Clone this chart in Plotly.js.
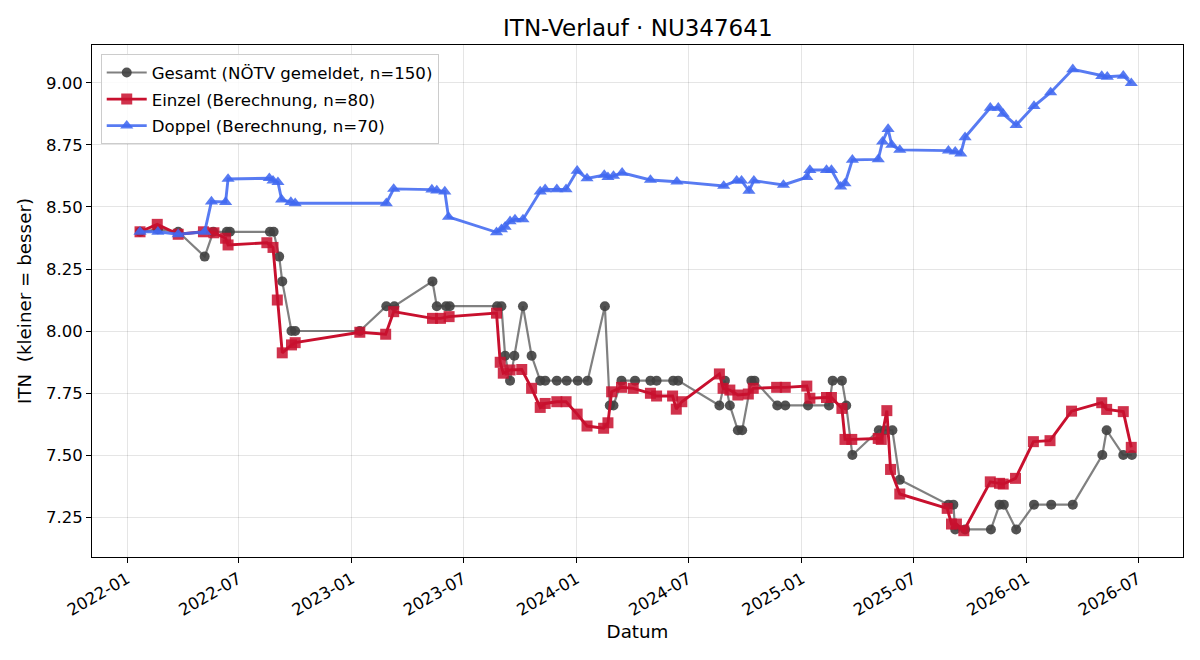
<!DOCTYPE html>
<html>
<head>
<meta charset="utf-8">
<script src="https://cdn.plot.ly/plotly-3.0.1.min.js"></script>
<style>
  html, body { margin: 0; padding: 0; background: #fff; }
  #chart { width: 1200px; height: 660px; }
</style>
</head>
<body>
<div id="chart"></div>
<script>
// ITN history for player NU347641
const gesamtDates = [
  "2022-01-22","2022-02-20","2022-03-25","2022-05-07","2022-05-21","2022-06-12","2022-06-17",
  "2022-08-21","2022-08-27","2022-09-05","2022-09-10","2022-09-25","2022-10-01","2023-01-14",
  "2023-02-26","2023-03-11","2023-05-12","2023-05-19","2023-06-03","2023-06-09","2023-08-25",
  "2023-09-01","2023-09-07","2023-09-15","2023-09-22","2023-10-06","2023-10-20","2023-11-03",
  "2023-11-11","2023-11-30","2023-12-16","2024-01-03","2024-01-19","2024-02-16","2024-02-24",
  "2024-03-01","2024-03-14","2024-04-05","2024-04-30","2024-05-10","2024-06-06","2024-06-14",
  "2024-08-20","2024-08-29","2024-09-06","2024-09-19","2024-09-26","2024-10-11","2024-10-16",
  "2024-11-22","2024-12-05","2025-01-11","2025-02-14","2025-02-20","2025-03-07","2025-03-14",
  "2025-03-24","2025-05-06","2025-05-16","2025-05-28","2025-06-09","2025-08-27","2025-09-04",
  "2025-09-07","2025-09-23","2025-11-04","2025-11-18","2025-11-25","2025-12-15","2026-01-13",
  "2026-02-10","2026-03-17","2026-05-04","2026-05-11","2026-06-07","2026-06-21"
];
const gesamtITN = [
  8.40, 8.41, 8.40, 8.30, 8.40, 8.40, 8.40,
  8.40, 8.40, 8.30, 8.20, 8.00, 8.00, 8.00,
  8.10, 8.10, 8.20, 8.10, 8.10, 8.10, 8.10,
  8.10, 7.90, 7.80, 7.90, 8.10, 7.90, 7.80,
  7.80, 7.80, 7.80, 7.80, 7.80, 8.10, 7.70,
  7.70, 7.80, 7.80, 7.80, 7.80, 7.80, 7.80,
  7.70, 7.80, 7.70, 7.60, 7.60, 7.80, 7.80,
  7.70, 7.70, 7.70, 7.70, 7.80, 7.80, 7.70,
  7.50, 7.60, 7.60, 7.60, 7.40, 7.30, 7.30,
  7.20, 7.20, 7.20, 7.30, 7.30, 7.20, 7.30,
  7.30, 7.30, 7.50, 7.60, 7.50, 7.50
];

const einzelDates = [
  "2022-01-22","2022-02-19","2022-03-25","2022-05-05","2022-05-22","2022-06-10","2022-06-14",
  "2022-08-16","2022-08-26","2022-09-02","2022-09-10","2022-09-25","2022-10-01","2023-01-14",
  "2023-02-25","2023-03-10","2023-05-12","2023-05-25","2023-06-08","2023-08-24","2023-08-30",
  "2023-09-04","2023-09-15","2023-10-04","2023-10-20","2023-11-03","2023-11-11","2023-11-30",
  "2023-12-15","2024-01-02","2024-01-18","2024-02-14","2024-02-21","2024-02-27","2024-03-14",
  "2024-04-02","2024-04-30","2024-05-10","2024-06-05","2024-06-11","2024-06-20","2024-08-20",
  "2024-08-26","2024-09-06","2024-09-19","2024-10-06","2024-10-14","2024-11-21","2024-12-05",
  "2025-01-09","2025-01-14","2025-02-10","2025-02-18","2025-03-07","2025-03-12","2025-03-23",
  "2025-05-05","2025-05-10","2025-05-19","2025-05-25","2025-06-09","2025-08-25","2025-09-01",
  "2025-09-09","2025-09-21","2025-11-03","2025-11-18","2025-11-24","2025-12-14","2026-01-12",
  "2026-02-08","2026-03-15","2026-05-03","2026-05-11","2026-06-07","2026-06-20"
];
const einzelITN = [
  8.400, 8.430, 8.390, 8.400, 8.396, 8.374, 8.347,
  8.356, 8.337, 8.125, 7.912, 7.944, 7.953, 7.995,
  7.987, 8.078, 8.051, 8.051, 8.058, 8.072, 7.874,
  7.830, 7.843, 7.845, 7.769, 7.692, 7.708, 7.715,
  7.715, 7.665, 7.617, 7.608, 7.630, 7.755, 7.773,
  7.769, 7.749, 7.738, 7.738, 7.685, 7.715, 7.827,
  7.769, 7.762, 7.742, 7.746, 7.769, 7.773, 7.773,
  7.778, 7.729, 7.732, 7.732, 7.688, 7.563, 7.563,
  7.567, 7.563, 7.679, 7.442, 7.343, 7.285, 7.222,
  7.222, 7.195, 7.392, 7.386, 7.383, 7.406, 7.554,
  7.558, 7.677, 7.711, 7.684, 7.675, 7.531
];

const doppelDates = [
  "2022-01-22","2022-02-20","2022-03-25","2022-05-07","2022-05-18","2022-06-10","2022-06-14",
  "2022-08-20","2022-08-26","2022-09-03","2022-09-09","2022-09-24","2022-10-01","2023-02-26",
  "2023-03-10","2023-05-11","2023-05-19","2023-06-01","2023-06-07","2023-08-24","2023-09-01",
  "2023-09-07","2023-09-15","2023-09-23","2023-10-06","2023-11-03","2023-11-11","2023-11-30",
  "2023-12-15","2024-01-02","2024-01-18","2024-02-15","2024-02-21","2024-03-01","2024-03-15",
  "2024-04-30","2024-06-12","2024-08-27","2024-09-17","2024-09-25","2024-10-07","2024-10-15",
  "2024-12-02","2025-01-09","2025-01-14","2025-02-10","2025-02-18","2025-03-05","2025-03-12",
  "2025-03-24","2025-05-05","2025-05-12","2025-05-21","2025-05-27","2025-06-09","2025-08-27",
  "2025-09-07","2025-09-16","2025-09-23","2025-11-03","2025-11-16","2025-11-24","2025-12-15",
  "2026-01-13","2026-02-09","2026-03-17","2026-05-03","2026-05-12","2026-06-07","2026-06-20"
];
const doppelITN = [
  8.400, 8.400, 8.390, 8.400, 8.522, 8.520, 8.613,
  8.616, 8.606, 8.600, 8.530, 8.520, 8.515, 8.515,
  8.573, 8.570, 8.566, 8.562, 8.460, 8.398, 8.410,
  8.420, 8.442, 8.450, 8.450, 8.562, 8.571, 8.571,
  8.571, 8.646, 8.615, 8.629, 8.620, 8.625, 8.638,
  8.609, 8.602, 8.585, 8.606, 8.606, 8.565, 8.606,
  8.589, 8.620, 8.649, 8.649, 8.649, 8.582, 8.595,
  8.690, 8.692, 8.763, 8.814, 8.750, 8.730, 8.727,
  8.723, 8.715, 8.781, 8.900, 8.900, 8.875, 8.830,
  8.907, 8.962, 9.055, 9.028, 9.025, 9.029, 8.999
];

const seriesNames = [
  "Gesamt (NÖTV gemeldet, n=150)",
  "Einzel (Berechnung, n=80)",
  "Doppel (Berechnung, n=70)"
];

const FONT = "DejaVu Sans, Liberation Sans, sans-serif";

const traces = [
  {
    x: gesamtDates, y: gesamtITN, name: seriesNames[0], legendgroup: "g",
    type: "scatter", mode: "lines+markers",
    line: { color: "rgba(68,68,68,0.68)", width: 2.2 },
    marker: { symbol: "circle", size: 10, color: "rgba(64,64,64,0.9)" }
  },
  {
    x: einzelDates, y: einzelITN, name: seriesNames[1], legendgroup: "e",
    type: "scatter", mode: "lines+markers",
    line: { color: "#c8102e", width: 2.9 },
    marker: { symbol: "square", size: 11, color: "rgba(200,16,46,0.86)" }
  },
  {
    x: doppelDates, y: doppelITN, name: seriesNames[2], legendgroup: "d",
    type: "scatter", mode: "lines+markers",
    line: { color: "rgba(65,105,240,0.88)", width: 2.9 },
    marker: { symbol: "triangle-up", size: 11.5, color: "rgba(65,105,240,0.88)" }
  }
];

const axisCommon = {
  showline: true, mirror: true, linecolor: "#000", linewidth: 1,
  ticks: "outside", ticklen: 5, tickwidth: 1, tickcolor: "#000",
  showgrid: true, gridcolor: "rgba(0,0,0,0.1)", gridwidth: 1,
  zeroline: false,
  tickfont: { family: FONT, size: 16.5, color: "#000" }
};

const layout = {
  width: 1200, height: 660,
  paper_bgcolor: "#fff", plot_bgcolor: "#fff",
  margin: { l: 92, r: 17, t: 45, b: 103 },
  font: { family: FONT, color: "#000" },
  title: {
    text: "ITN-Verlauf · NU347641",
    font: { family: FONT, size: 23, color: "#000" },
    x: 0.5315, xanchor: "center", y: 0.957, yanchor: "middle"
  },
  xaxis: Object.assign({}, axisCommon, {
    type: "date",
    range: ["2021-11-05", "2026-09-12"],
    tick0: "2022-01-01", dtick: "M6", tickformat: "%Y-%m",
    tickangle: -30,
    title: { text: "Datum", font: { family: FONT, size: 18.3, color: "#000" }, standoff: 6 }
  }),
  yaxis: Object.assign({}, axisCommon, {
    range: [7.089, 9.153],
    tick0: 7.25, dtick: 0.25, tickformat: ".2f",
    title: { text: "ITN\u00a0\u00a0(kleiner = besser)", font: { family: FONT, size: 18.3, color: "#000" }, standoff: 9 }
  }),
  legend: {
    x: 0.008, y: 0.982, xanchor: "left", yanchor: "top",
    bgcolor: "rgba(255,255,255,0.85)", bordercolor: "#cccccc", borderwidth: 1,
    font: { family: FONT, size: 16.6, color: "#000" },
    traceorder: "grouped", tracegroupgap: 2, itemwidth: 40
  },
  showlegend: true,
  hovermode: false
};

Plotly.newPlot("chart", traces, layout, { displayModeBar: false, staticPlot: true });
</script>
</body>
</html>
